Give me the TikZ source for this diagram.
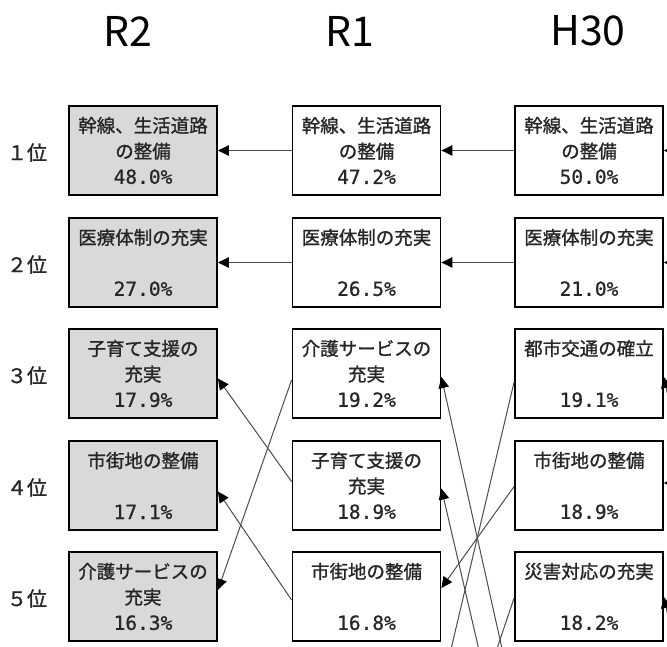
\documentclass[tikz,border=0pt]{standalone}
\usepackage{fontspec}
\setmainfont{Noto Sans CJK JP}
\newfontfamily\boxfont[RawFeature={embolden=1.2}]{Noto Sans CJK JP}
\newfontfamily\pctfont[RawFeature={embolden=0.8}]{DejaVu Sans Mono}
\newcommand\pcttext[1]{{\pctfont\fontsize{19.5}{25.7}\selectfont #1}}
\usetikzlibrary{arrows.meta,calc}
\begin{document}
\begin{tikzpicture}[x=1pt,y=-1pt,
  box/.style={draw=black,line width=1.8pt,minimum width=148pt,minimum height=89pt,inner sep=0pt,align=center,font=\boxfont\fontsize{18.5}{25.7}\selectfont,text=black!85},
  cur/.style={box,fill=gray!30},
  conn/.style={draw=black!70,line width=1pt,-{Triangle[length=11pt,width=10.5pt,color=black]}},
  rank/.style={font=\boxfont\fontsize{20}{24}\selectfont,text=black!85},
  head/.style={font=\fontsize{41}{48}\selectfont}]
\useasboundingbox (0,0) rectangle (667,647);
\clip (0,0) rectangle (667,647);
% headers
\node[head] (hR2) at (128,31) {R2};
\node[head] (hR1) at (350,31) {R1};
\node[head] (hH30) at (588,31) {H30};
% ranks
\node[rank] (k1) at (27,152.5) {１位};
\node[rank] (k2) at (27,264.5) {２位};
\node[rank] (k3) at (27,375.5) {３位};
\node[rank] (k4) at (27,487.5) {４位};
\node[rank] (k5) at (27,598.5) {５位};
% R2
\node[cur] (a1) at (143,150.5) {幹線、生活道路\\の整備\\\pcttext{48.0\%}};
\node[cur] (a2) at (143,262.5) {医療体制の充実\\\mbox{}\\\pcttext{27.0\%}};
\node[cur] (a3) at (143,373.5) {子育て支援の\\充実\\\pcttext{17.9\%}};
\node[cur] (a4) at (143,485.5) {市街地の整備\\\mbox{}\\\pcttext{17.1\%}};
\node[cur] (a5) at (143,596.5) {介護サービスの\\充実\\\pcttext{16.3\%}};
% R1
\node[box] (b1) at (366.5,150.5) {幹線、生活道路\\の整備\\\pcttext{47.2\%}};
\node[box] (b2) at (366.5,262.5) {医療体制の充実\\\mbox{}\\\pcttext{26.5\%}};
\node[box] (b3) at (366.5,373.5) {介護サービスの\\充実\\\pcttext{19.2\%}};
\node[box] (b4) at (366.5,485.5) {子育て支援の\\充実\\\pcttext{18.9\%}};
\node[box] (b5) at (366.5,596.5) {市街地の整備\\\mbox{}\\\pcttext{16.8\%}};
% H30
\node[box] (c1) at (589,150.5) {幹線、生活道路\\の整備\\\pcttext{50.0\%}};
\node[box] (c2) at (589,262.5) {医療体制の充実\\\mbox{}\\\pcttext{21.0\%}};
\node[box] (c3) at (589,373.5) {都市交通の確立\\\mbox{}\\\pcttext{19.1\%}};
\node[box] (c4) at (589,485.5) {市街地の整備\\\mbox{}\\\pcttext{18.9\%}};
\node[box] (c5) at (589,596.5) {災害対応の充実\\\mbox{}\\\pcttext{18.2\%}};
% off-picture ends
\coordinate (offa) at (439,700);
\coordinate (offb) at (513.5,700);
\coordinate (offc) at (490.6,700);
\coordinate (offd) at (479.6,700);
\coordinate (inr1) at (700,150.5);
\coordinate (inr2) at (700,262.5);
\coordinate (inr3) at (673,420);
\coordinate (inr4) at (700,483);
\coordinate (inr5) at (676,655);
% R1 -> R2
\draw[conn] (b1.west) -- (a1.east);
\draw[conn] (b2.west) -- (a2.east);
\draw[conn] ($(b3.west)+(0,6.5)$) -- ($(a5.east)+(0,-6.5)$);
\draw[conn] ($(b4.west)+(0,-4)$) -- ($(a3.east)+(0,5)$);
\draw[conn] ($(b5.west)+(0,3.5)$) -- ($(a4.east)+(0,6)$);
% H30 -> R1
\draw[conn] (c1.west) -- (b1.east);
\draw[conn] (c2.west) -- (b2.east);
\draw[conn] ($(c3.west)+(0,8.5)$) -- (offa);
\draw[conn] ($(c4.west)+(0,1)$) -- ($(b5.east)+(0,-8.5)$);
\draw[conn] ($(c5.west)+(0,1.5)$) -- (offd);
\draw[conn] (offb) -- ($(b3.east)+(0,3.5)$);
\draw[conn] (offc) -- ($(b4.east)+(0,3)$);
% into H30
\draw[conn] (inr1) -- (c1.east);
\draw[conn] (inr2) -- (c2.east);
\draw[conn] (inr3) -- ($(c3.east)+(0,3.5)$);
\draw[conn] (inr4) -- ($(c4.east)+(0,-2.5)$);
\draw[conn] (inr5) -- ($(c5.east)+(0,0.5)$);
\end{tikzpicture}
\end{document}
